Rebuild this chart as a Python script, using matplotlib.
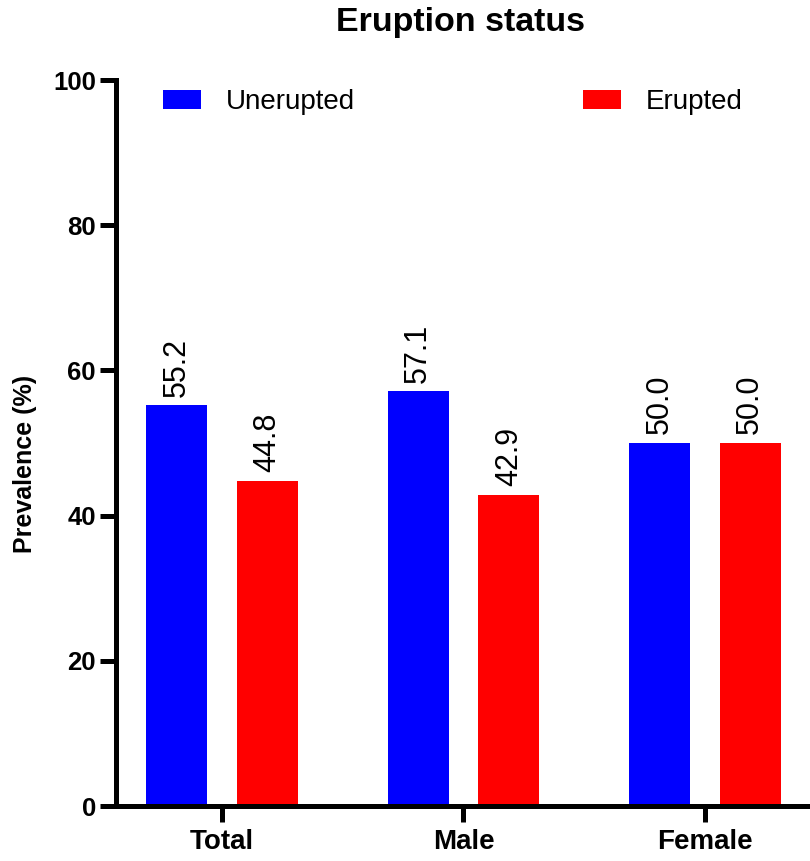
import matplotlib.pyplot as plt
import numpy as np

plt.rcParams["font.family"] = ["Liberation Sans", "DejaVu Sans"]

groups = ["Total", "Male", "Female"]
series = ["Unerupted", "Erupted"]
unerupted = [55.2, 57.1, 50.0]
erupted = [44.8, 42.9, 50.0]
colors = ["#0000FF", "#FF0000"]

fig = plt.figure(figsize=(8.1, 8.61), dpi=100)
ax = fig.add_axes([116 / 810, 1 - 806 / 861, 1 - 116 / 810, (806 - 80) / 861])

x = np.arange(len(groups))
width = 0.253
offset = 0.188
for vals, name, col, sign in [(unerupted, series[0], colors[0], -1),
                              (erupted, series[1], colors[1], 1)]:
    bars = ax.bar(x + sign * offset, vals, width, color=col, label=name)
    for b, v in zip(bars, vals):
        ax.text(b.get_x() + b.get_width() / 2, v + 1.2, f"{v:.1f}",
                rotation=90, ha="center", va="bottom", fontsize=22)

ax.set_xlim(-0.44, 2.436)
ax.set_ylim(0, 100)
ax.set_yticks([0, 20, 40, 60, 80, 100])
ax.set_xticks(x)
ax.set_xticklabels(groups, fontsize=20, fontweight="bold")
for lab in ax.get_yticklabels():
    lab.set_fontsize(18.5)
    lab.set_fontweight("bold")

for s in ["top", "right"]:
    ax.spines[s].set_visible(False)
for s in ["left", "bottom"]:
    ax.spines[s].set_linewidth(3.6)
ax.spines["bottom"].set_capstyle("butt")
ax.tick_params(axis="both", length=11.5, width=3.6, color="black")
ax.tick_params(axis="y", pad=3)
ax.tick_params(axis="x", pad=5)

ax.set_ylabel("Prevalence (%)", fontsize=18, fontweight="bold")
ax.yaxis.set_label_coords((37 - 116) / 694, (806 - 464) / 726)

fig.text(460 / 810, 1 - 22 / 861, "Eruption status", ha="center", va="center",
         fontsize=24.5, fontweight="bold")

leg = ax.legend(loc="center left", bbox_to_anchor=(163 / 810, 1 - 102 / 861),
                bbox_transform=fig.transFigure, ncol=2, frameon=False,
                fontsize=20, handlelength=1.37, handleheight=0.65,
                handletextpad=0.9, columnspacing=8.2, borderpad=0,
                borderaxespad=0)

fig.savefig("out.png", dpi=100)
